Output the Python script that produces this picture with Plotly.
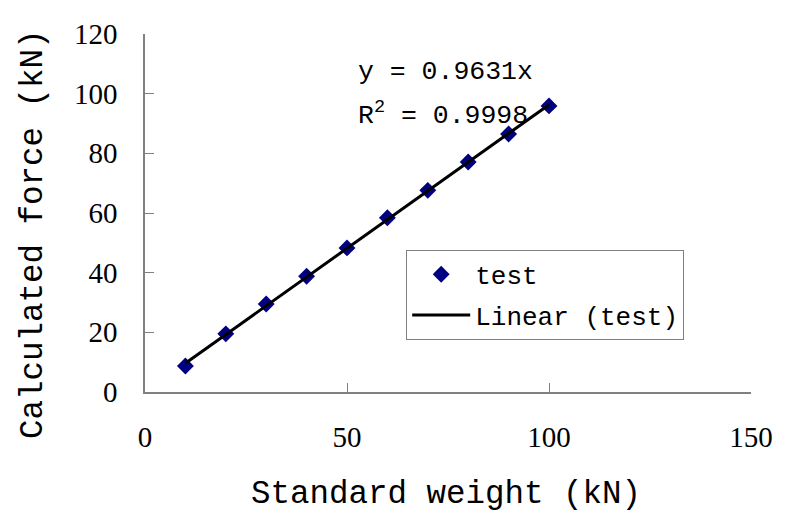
import plotly.graph_objects as go

# Data
standard_weight = [10, 20, 30, 40, 50, 60, 70, 80, 90, 100]
calculated_force = [8.7, 19.5, 29.5, 38.8, 48.3, 58.4, 67.6, 77.1, 86.5, 95.9]
trend_x = [10, 100]
trend_y = [9.631, 96.31]
x_ticks = [0, 50, 100, 150]
y_ticks = [0, 20, 40, 60, 80, 100, 120]

MONO = "Liberation Mono"
SERIF = "Liberation Serif"
AXC = "#808080"

fig = go.Figure()
fig.add_trace(go.Scatter(
    x=standard_weight, y=calculated_force, mode="markers", name="test",
    legendgroup="a",
    marker=dict(symbol="diamond", size=13, color="#000080"),
))
fig.add_trace(go.Scatter(
    x=trend_x, y=trend_y, mode="lines", name="Linear (test)",
    legendgroup="b",
    line=dict(color="black", width=3),
))

fig.update_layout(
    width=785, height=513,
    margin=dict(l=145, r=28, t=34, b=121),
    paper_bgcolor="white", plot_bgcolor="white",
    showlegend=True,
    legend=dict(
        x=0.431, y=0.397, xanchor="left", yanchor="top",
        bordercolor=AXC, borderwidth=1, bgcolor="white",
        font=dict(family=MONO, size=26, color="black"),
        tracegroupgap=4, itemwidth=58,
    ),
    xaxis=dict(
        range=[0, 150], tickvals=x_ticks, ticks="inside", ticklen=9,
        tickcolor=AXC, showline=True, linecolor=AXC, linewidth=1.5,
        showgrid=False, zeroline=False, ticklabelstandoff=18,
        tickfont=dict(family=SERIF, size=29, color="black"),
    ),
    yaxis=dict(
        range=[0, 120], tickvals=y_ticks, ticks="inside", ticklen=9,
        tickcolor=AXC, showline=True, linecolor=AXC, linewidth=1.5,
        showgrid=False, zeroline=False, ticklabelstandoff=20,
        tickfont=dict(family=SERIF, size=29, color="black"),
    ),
    annotations=[
        dict(text="Standard weight (kN)", xref="paper", yref="paper",
             x=0.496, y=-0.285, showarrow=False, xanchor="center", yanchor="middle",
             font=dict(family=MONO, size=32.5, color="black")),
        dict(text="Calculated force (kN)", xref="paper", yref="paper",
             x=-0.185, y=0.441, showarrow=False, xanchor="center", yanchor="middle",
             textangle=-90, font=dict(family=MONO, size=32.5, color="black")),
        dict(text="y = 0.9631x", xref="x", yref="y", x=52.2, y=107.3,
             showarrow=False, xanchor="left", yanchor="middle",
             font=dict(family=MONO, size=26.5, color="black")),
        dict(text="R<sup>2</sup> = 0.9998", xref="x", yref="y", x=52.2, y=93.2,
             showarrow=False, xanchor="left", yanchor="middle",
             font=dict(family=MONO, size=26.5, color="black")),
    ],
)

fig.write_html("out.html")
